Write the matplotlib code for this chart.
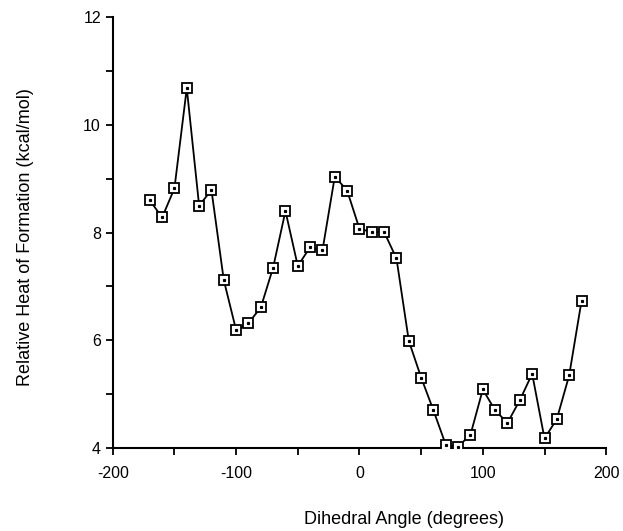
import matplotlib
matplotlib.use('Agg')
import matplotlib.pyplot as plt
from matplotlib.ticker import MultipleLocator

# dihedral angle (degrees) and relative heat of formation (kcal/mol)
angles = [-170, -160, -150, -140, -130, -120, -110, -100, -90, -80, -70, -60,
          -50, -40, -30, -20, -10, 0, 10, 20, 30, 40, 50, 60, 70, 80, 90,
          100, 110, 120, 130, 140, 150, 160, 170, 180]
heat = [8.60, 8.28, 8.82, 10.68, 8.50, 8.79, 7.12, 6.19, 6.32, 6.61, 7.35, 8.40,
        7.38, 7.73, 7.67, 9.04, 8.78, 8.07, 8.01, 8.01, 7.52, 5.99, 5.31, 4.70,
        4.06, 4.03, 4.25, 5.09, 4.70, 4.47, 4.89, 5.38, 4.18, 4.54, 5.35, 6.73]

plt.rcParams['font.family'] = ['Liberation Sans', 'DejaVu Sans']
plt.rcParams['axes.unicode_minus'] = False

fig = plt.figure(figsize=(6.23, 5.31), dpi=100)
ax = fig.add_axes([0.181, 0.156, 0.792, 0.812])

ax.plot(angles, heat, '-', color='black', lw=1.3, zorder=2)
ax.plot(angles, heat, 's', ms=6.5, mfc='white', mec='black', mew=1.3, zorder=3)
ax.plot(angles, heat, 's', ms=1.3, color='black', zorder=4)

ax.set_xlim(-200, 200)
ax.set_ylim(4, 12)
ax.xaxis.set_major_locator(MultipleLocator(100))
ax.xaxis.set_minor_locator(MultipleLocator(50))
ax.yaxis.set_major_locator(MultipleLocator(2))
ax.yaxis.set_minor_locator(MultipleLocator(1))
ax.tick_params(which='both', direction='out', length=5, width=1.3, labelsize=11.5)
ax.tick_params(axis='x', pad=8)

for side in ['top', 'right']:
    ax.spines[side].set_visible(False)
for side in ['left', 'bottom']:
    ax.spines[side].set_linewidth(1.5)

ax.set_xlabel('Dihedral Angle (degrees)', fontsize=13)
ax.set_ylabel('Relative Heat of Formation (kcal/mol)', fontsize=13)
ax.xaxis.set_label_coords(0.59, -0.145)
ax.yaxis.set_label_coords(-0.16, 0.49)

fig.savefig('out.png', dpi=100)
